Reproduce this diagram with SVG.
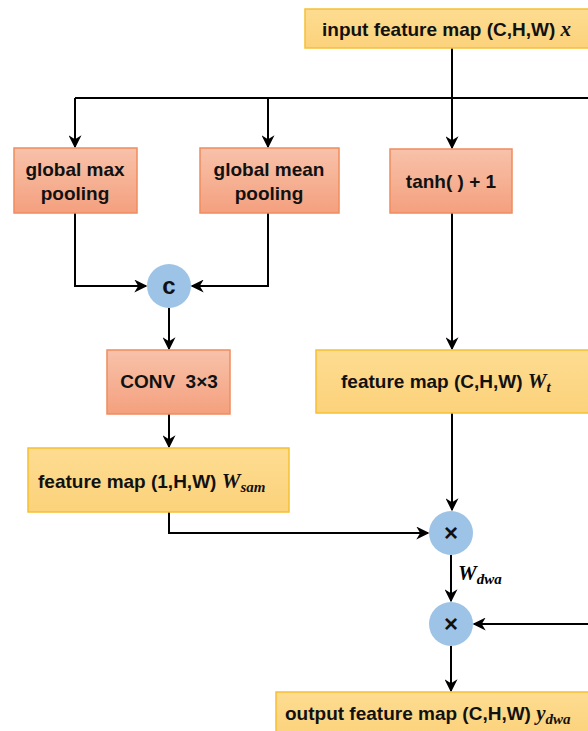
<svg xmlns="http://www.w3.org/2000/svg" width="588" height="731" viewBox="0 0 588 731">
<defs>
<linearGradient id="og" x1="0" y1="0" x2="0" y2="1"><stop offset="0" stop-color="#f8c2aa"/><stop offset="1" stop-color="#f4a07e"/></linearGradient>
<linearGradient id="yg" x1="0" y1="0" x2="0" y2="1"><stop offset="0" stop-color="#fddc91"/><stop offset="1" stop-color="#fcd27b"/></linearGradient>
<marker id="ah" viewBox="0 0 10 10" refX="9" refY="5" markerWidth="6.5" markerHeight="6.5" orient="auto"><path d="M0,0 L10,5 L0,10 L3,5 Z" fill="#000"/></marker>
<style>
.ob{fill:url(#og);stroke:#f08c5e;stroke-width:1.5}
.yb{fill:url(#yg);stroke:#f6c033;stroke-width:1.5}
.ci{fill:#9dc3e6}
.t{font-family:"Liberation Sans",Arial,sans-serif;font-weight:bold;font-size:19px;fill:#111}
.m{font-family:"Liberation Serif","DejaVu Serif",serif;font-style:italic;font-weight:bold}
.big{font-size:21px}
.sub{font-size:15px}
.op{font-size:24px}
.ln{fill:none;stroke:#000;stroke-width:2}
</style>
</defs>
<g id="connectors">
<path class="ln" d="M452,48 V98"/>
<path class="ln" d="M75,98 H588"/>
<path class="ln" d="M75,98 V147" marker-end="url(#ah)"/>
<path class="ln" d="M268,98 V147" marker-end="url(#ah)"/>
<path class="ln" d="M452,98 V148" marker-end="url(#ah)"/>
<path class="ln" d="M75,213 V286 H146" marker-end="url(#ah)"/>
<path class="ln" d="M268,213 V286 H192" marker-end="url(#ah)"/>
<path class="ln" d="M169,308 V349" marker-end="url(#ah)"/>
<path class="ln" d="M169,414 V447" marker-end="url(#ah)"/>
<path class="ln" d="M452,213 V349" marker-end="url(#ah)"/>
<path class="ln" d="M452,413 V510" marker-end="url(#ah)"/>
<path class="ln" d="M169,512 V533 H428" marker-end="url(#ah)"/>
<path class="ln" d="M451,555 V601" marker-end="url(#ah)"/>
<path class="ln" d="M588,624 H474" marker-end="url(#ah)"/>
<path class="ln" d="M451,646 V691" marker-end="url(#ah)"/>
<text x="458" y="580" class="m big">W<tspan class="sub" dy="4">dwa</tspan></text>
</g>
<g id="input">
<rect class="yb" x="305" y="9" width="290" height="39"/>
<text class="t" x="322" y="36">input feature map (C,H,W) <tspan class="m big">x</tspan></text>
</g>
<g id="gmax">
<rect class="ob" x="14" y="148" width="123" height="65"/>
<text class="t" x="75" y="176" text-anchor="middle">global max</text>
<text class="t" x="75" y="200" text-anchor="middle">pooling</text>
</g>
<g id="gmean">
<rect class="ob" x="200" y="148" width="139" height="65"/>
<text class="t" x="269" y="176" text-anchor="middle">global mean</text>
<text class="t" x="269" y="200" text-anchor="middle">pooling</text>
</g>
<g id="tanh">
<rect class="ob" x="390" y="149" width="122" height="64"/>
<text class="t" x="451" y="188" text-anchor="middle">tanh( ) + 1</text>
</g>
<g id="concat">
<circle class="ci" cx="169" cy="286" r="22"/>
<text class="t op" x="169" y="294" text-anchor="middle">c</text>
</g>
<g id="conv">
<rect class="ob" x="107" y="350" width="123" height="64"/>
<text class="t" x="169" y="388" text-anchor="middle" xml:space="preserve">CONV  3×3</text>
</g>
<g id="wsam">
<rect class="yb" x="28" y="448" width="261" height="64"/>
<text class="t" x="38" y="488">feature map (1,H,W) <tspan class="m big">W</tspan><tspan class="m sub" dy="4">sam</tspan></text>
</g>
<g id="wt">
<rect class="yb" x="316" y="350" width="280" height="63"/>
<text class="t" x="341" y="388">feature map (C,H,W) <tspan class="m big">W</tspan><tspan class="m sub" dy="4">t</tspan></text>
</g>
<g id="mul1">
<circle class="ci" cx="451" cy="533" r="22"/>
<text class="t op" x="451" y="541" text-anchor="middle">×</text>
</g>
<g id="mul2">
<circle class="ci" cx="451" cy="624" r="22"/>
<text class="t op" x="451" y="632" text-anchor="middle">×</text>
</g>
<g id="output">
<rect class="yb" x="276" y="692" width="320" height="45"/>
<text class="t" x="285" y="720">output feature map (C,H,W) <tspan class="m big">y</tspan><tspan class="m sub" dy="4">dwa</tspan></text>
</g>
</svg>
